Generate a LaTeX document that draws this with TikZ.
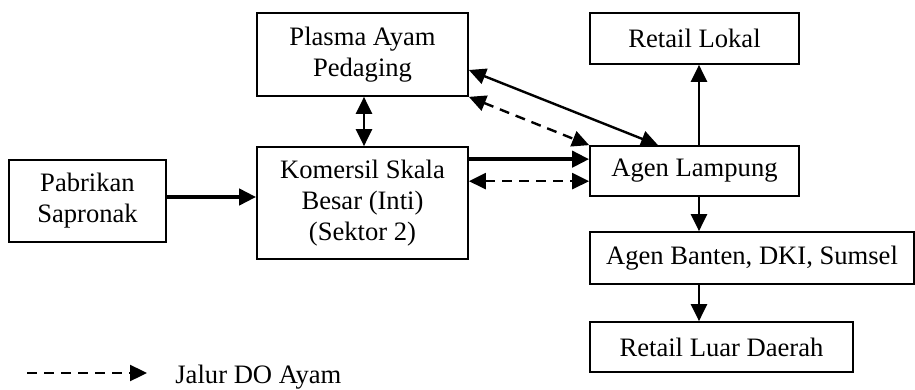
\documentclass[tikz,border=0pt]{standalone}
\usepackage{fontspec}
\setmainfont{Liberation Serif}
\usetikzlibrary{arrows.meta}
\begin{document}
\begin{tikzpicture}[x=0.5pt,y=-0.5pt,
  font=\fontsize{13.3}{15.4}\selectfont,
  box/.style={draw,line width=0.85pt,align=center,inner sep=0pt},
  flow/.style={line width=1.2pt,-{Triangle[length=8.5pt,width=8pt]}},
  both/.style={line width=1.2pt,{Triangle[length=8.5pt,width=8pt]}-{Triangle[length=8.5pt,width=8pt]}},
  bold/.style={line width=2pt,-{Triangle[length=8.5pt,width=8pt]}},
  do/.style={dash pattern=on 5pt off 3.5pt}]
\useasboundingbox (0,0) rectangle (915,390);

% boxes
\node[box,minimum width=105.5pt,minimum height=41.5pt] (plasma) at (362.5,54.5) {Plasma Ayam\\Pedaging};
\node[box,minimum width=105.5pt,minimum height=56pt] (komersil) at (362.5,203) {Komersil Skala\\Besar (Inti)\\(Sektor 2)};
\node[box,minimum width=78.5pt,minimum height=41pt] (pabrik) at (87.5,201) {Pabrikan\\Sapronak};
\node[box,minimum width=104.5pt,minimum height=25.5pt] (lokal) at (694.5,38.5) {Retail Lokal};
\node[box,minimum width=104.5pt,minimum height=25pt] (lampung) at (694.5,171) {Agen Lampung};
\node[box,minimum width=162pt,minimum height=26pt] (banten) at (752,258) {Agen Banten, DKI, Sumsel};
\node[box,minimum width=131.5pt,minimum height=25pt] (luar) at (721.5,347) {Retail Luar Daerah};

% connectors
\draw[bold] ([yshift=2pt]pabrik.east) -- ([yshift=2pt]komersil.west |- pabrik.east);
\draw[both] ([xshift=0.75pt]plasma.south) -- ([xshift=0.75pt]komersil.north);
\draw[both] ([yshift=-7.75pt]plasma.east) -- ([xshift=-18.25pt]lampung.north);
\draw[both,do] (plasma.south east) -- (lampung.north west);
\draw[bold] ([yshift=-6.5pt]komersil.north east) -- ([yshift=-6.5pt]komersil.north east -| lampung.west);
\draw[both,do] ([yshift=-17.5pt]komersil.north east) -- ([yshift=-17.5pt]komersil.north east -| lampung.west);
\draw[flow] ([xshift=2.25pt]lampung.north) -- ([xshift=2.25pt]lampung.north |- lokal.south);
\draw[flow] ([xshift=2.25pt]lampung.south) -- ([xshift=2.25pt]lampung.south |- banten.north);
\draw[flow] ([xshift=2.25pt]lampung.south |- banten.south) -- ([xshift=2.25pt]lampung.south |- luar.north);

% legend
\coordinate (lgA) at (27,373);
\coordinate (lgB) at (147,373);
\draw[flow,do] (lgA) -- (lgB);
\node[anchor=west,inner sep=0pt] (lgtext) at (175,377) {Jalur DO Ayam};
\end{tikzpicture}
\end{document}
